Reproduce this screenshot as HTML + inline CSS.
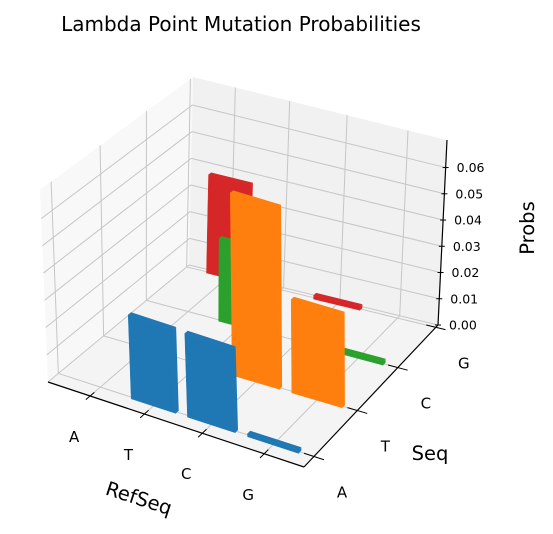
<!DOCTYPE html>
<html><head><meta charset="utf-8"><style>
html,body{margin:0;padding:0;background:#fff;}
svg{display:block;font-family:"DejaVu Sans","Liberation Sans",sans-serif;}
</style></head><body>
<svg id="chart" width="553" height="534" viewBox="0 0 553 534" xmlns="http://www.w3.org/2000/svg">
<rect width="553" height="534" fill="#fff"/>
<text x="241" y="31" font-size="20" text-anchor="middle" fill="#000">Lambda Point Mutation Probabilities</text>
<g id="panes"></g><g id="grid"></g><g id="bars"></g><g id="axes"></g>
</svg>
<script>
const refCats = ["A","T","C","G"];
const seqCats = ["A","T","C","G"];
const seqColors = ["#1f77b4","#ff7f0e","#2ca02c","#d62728"];
// probabilities per Seq row, indexed by RefSeq
const probsSeqA = [0, 0.031, 0.031, 0.0012];
const probsSeqT = [0, 0, 0.068, 0.035];
const probsSeqC = [0, 0.031, 0, 0.0015];
const probsSeqG = [0.037, 0, 0.0015, 0];
const zTicks = [0, 0.01, 0.02, 0.03, 0.04, 0.05, 0.06];
const zTickLabels = ["0.00","0.01","0.02","0.03","0.04","0.05","0.06"];

const rows = [probsSeqA, probsSeqT, probsSeqC, probsSeqG];
const NS = "http://www.w3.org/2000/svg";
const xmin=-0.82, xmax=3.61, ymin=-0.22, ymax=3.06, zmax=0.0705;
const A={x:48,y:382}, B={x:304,y:467}, C={x:438,y:325}, D={x:189,y:265};
const dx1=B.x-C.x, dx2=D.x-C.x, dx3=A.x-B.x+C.x-D.x;
const dy1=B.y-C.y, dy2=D.y-C.y, dy3=A.y-B.y+C.y-D.y;
const den=dx1*dy2-dx2*dy1;
const g=(dx3*dy2-dx2*dy3)/den, h=(dx1*dy3-dx3*dy1)/den;
const a=B.x-A.x+g*B.x, b=D.x-A.x+h*D.x, c=A.x;
const d=B.y-A.y+g*B.y, e=D.y-A.y+h*D.y, f=A.y;
function bil(u,v,q00,q10,q11,q01){return q00*(1-u)*(1-v)+q10*u*(1-v)+q11*u*v+q01*(1-u)*v;}
function P(x,y,z){
  const u=(x-xmin)/(xmax-xmin), v=(y-ymin)/(ymax-ymin);
  const w=g*u+h*v+1;
  const X=(a*u+b*v+c)/w, Y=(d*u+e*v+f)/w;
  const t=z/zmax;
  const H=bil(u,v,192,190,185,188), L=bil(u,v,-8,-6,9,4);
  return [X+t*L, Y-t*H];
}
function pts(arr){return arr.map(p=>p[0].toFixed(1)+","+p[1].toFixed(1)).join(" ");}
function el(tag,attrs,parent){const n=document.createElementNS(NS,tag);for(const k in attrs)n.setAttribute(k,attrs[k]);parent.appendChild(n);return n;}
const gp=document.getElementById("panes"), gg=document.getElementById("grid"), gb=document.getElementById("bars"), ga=document.getElementById("axes");
let pn;
pn=el("polygon",{points:pts([P(xmin,ymin,0),P(xmin,ymax,0),P(xmin,ymax,zmax),P(xmin,ymin,zmax)]),fill:"#f8f8f8"},gp);


pn=el("polygon",{points:pts([P(xmin,ymax,0),P(xmax,ymax,0),P(xmax,ymax,zmax),P(xmin,ymax,zmax)]),fill:"#f1f1f1"},gp);


pn=el("polygon",{points:pts([P(xmin,ymin,0),P(xmax,ymin,0),P(xmax,ymax,0),P(xmin,ymax,0)]),fill:"#f4f4f4"},gp);


function gl(p,q,name){const l=el("line",{x1:p[0],y1:p[1],x2:q[0],y2:q[1],stroke:"#c6c6c6","stroke-width":1},gg);

}
refCats.forEach((r,i)=>{gl(P(i,ymin,0),P(i,ymax,0),"floor-grid-x");gl(P(i,ymax,0),P(i,ymax,zmax),"back-grid-x");});
seqCats.forEach((s,j)=>{gl(P(xmin,j,0),P(xmax,j,0),"floor-grid-y");gl(P(xmin,j,0),P(xmin,j,zmax),"left-grid-y");});
zTicks.forEach(z=>{gl(P(xmin,ymin,z),P(xmin,ymax,z),"left-grid-z");gl(P(xmin,ymax,z),P(xmax,ymax,z),"back-grid-z");});
const bw=0.4, bd=0.03;
for(let j=rows.length-1;j>=0;j--){
  rows[j].forEach((val,i)=>{
    if(val<=0) return;
    const x0=i-bw,x1=i+bw,y0=j-bd,y1=j+bd;
    const grp=el("g",{},gb);
    
    
    const col=seqColors[j];
    el("polygon",{points:pts([P(x1,y0,0),P(x1,y1,0),P(x1,y1,val),P(x1,y0,val)]),fill:col},grp);
    el("polygon",{points:pts([P(x0,y0,val),P(x1,y0,val),P(x1,y1,val),P(x0,y1,val)]),fill:col},grp);
    el("polygon",{points:pts([P(x0,y0,0),P(x1,y0,0),P(x1,y0,val),P(x0,y0,val)]),fill:col,stroke:col,"stroke-width":0.5},grp);
  });
}
function al(p,q,name,w){const l=el("line",{x1:p[0],y1:p[1],x2:q[0],y2:q[1],stroke:"#000","stroke-width":w||1.2},ga);

}
function tx(x,y,s,size,name,extra){const t=el("text",Object.assign({x:x,y:y,"font-size":size,"text-anchor":"middle",fill:"#000"},extra||{}),ga);t.textContent=s;

}
al(P(xmin,ymin,0),P(xmax,ymin,0),"x-axis-line");
al(P(xmax,ymin,0),P(xmax,ymax,0),"y-axis-line");
al(P(xmax,ymax,0),P(xmax,ymax,zmax),"z-axis-line");
refCats.forEach((r,i)=>{
  al(P(i,ymin+0.09,0),P(i,ymin-0.09,0),"x-tick",1);
  const p=P(i,ymin,0);
  tx(p[0]-16,p[1]+46,r,15,"x-tick-label");
});
seqCats.forEach((s,j)=>{
  al(P(xmax-0.15,j,0),P(xmax+0.15,j,0),"y-tick",1);
  const p=P(xmax,j,0);
  tx(p[0]+28,p[1]+41,s,15,"y-tick-label");
});
zTicks.forEach((z,k)=>{
  const p=P(xmax,ymax,z);
  al([p[0]-3,p[1]],[p[0]+3,p[1]],"z-tick",1);
  tx(p[0]+11,p[1]+4.5,zTickLabels[k],12.5,"z-tick-label",{"text-anchor":"start"});
});
tx(139,505,"RefSeq",19.5,"x-axis-title",{transform:"rotate(18 139 498)"});
tx(430,460,"Seq",19.5,"y-axis-title");
tx(534,228,"Probs",19.5,"z-axis-title",{transform:"rotate(-90 534 228)"});
</script>
</body></html>
